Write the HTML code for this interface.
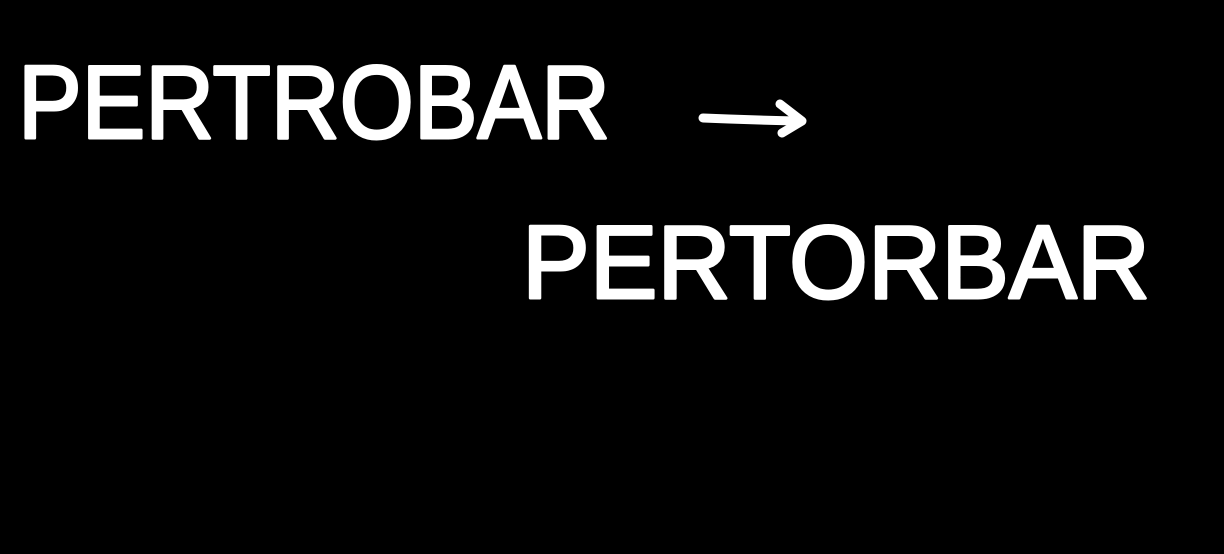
<!DOCTYPE html>
<html>
<head>
<meta charset="utf-8">
<style>
  html, body { margin: 0; padding: 0; background: #000; }
  svg { display: block; }
  text { font-family: "Liberation Sans", sans-serif; fill: #fff; stroke: #fff; stroke-width: 3; stroke-linejoin: round; }
</style>
</head>
<body>
<svg width="1224" height="554" viewBox="0 0 1224 554">
  <rect width="1224" height="554" fill="#000"/>
  <text x="18" y="138" font-size="104" textLength="592" lengthAdjust="spacingAndGlyphs">PERTROBAR</text>
  <g stroke="#fff" stroke-width="9" stroke-linecap="round" stroke-linejoin="round" fill="none">
    <path d="M703 118 Q750 120 800 121"/>
    <path d="M780 104 L802 121 L782 133"/>
  </g>
  <text x="522" y="298" font-size="104" textLength="628" lengthAdjust="spacingAndGlyphs">PERTORBAR</text>
</svg>
</body>
</html>
